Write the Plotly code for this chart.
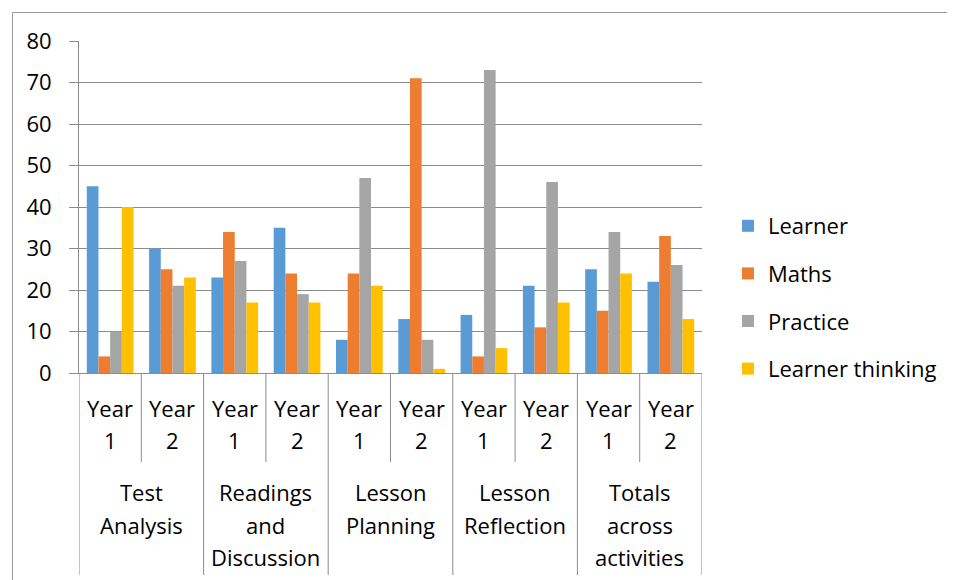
import plotly.graph_objects as go

groups = ["Test<br>Analysis", "Readings<br>and<br>Discussion", "Lesson<br>Planning", "Lesson<br>Reflection", "Totals<br>across<br>activities"]
years = ["Year 1", "Year 2"]
series_names = ["Learner", "Maths", "Practice", "Learner thinking"]
learner = [45, 30, 23, 35, 8, 13, 14, 21, 25, 22]
maths = [4, 25, 34, 24, 24, 71, 4, 11, 15, 33]
practice = [10, 21, 27, 19, 47, 8, 73, 46, 34, 26]
learner_thinking = [40, 23, 17, 17, 21, 1, 6, 17, 24, 13]
colors = ["#5B9BD5", "#ED7D31", "#A5A5A5", "#FFC000"]
y_ticks = [0, 10, 20, 30, 40, 50, 60, 70, 80]

FONT = "Open Sans"
FS = 22
OFF = 8  # page body margin
W, H = 955 - OFF, 580 - OFF
PL, PR, PT, PB = 79, 702, 41, 373
L, R, T, B = PL - OFF, PR - OFF, PT - OFF, PB - OFF
pw, ph = R - L, B - T

def py(y_page):
    return (PB - y_page) / ph

def pxp(x_page):
    return (x_page - PL) / pw

xs = list(range(len(learner)))
fig = go.Figure()
for i, (name, vals) in enumerate(zip(series_names, [learner, maths, practice, learner_thinking])):
    fig.add_trace(go.Bar(x=xs, y=vals, name=name, marker=dict(color=colors[i], line=dict(width=0)),
                         legendgroup=name))

shapes = []
annotations = []
for k in range(11):
    xv = k - 0.5
    y0 = py(575) if k % 2 == 0 else py(462)
    shapes.append(dict(type="line", xref="x", yref="paper", x0=xv, x1=xv, y0=y0, y1=0,
                       line=dict(color="#8c8c8c", width=1)))
shapes.append(dict(type="rect", xref="paper", yref="paper",
                   x0=pxp(12.5), x1=pxp(951.5), y0=py(600), y1=py(12.5),
                   line=dict(color="#999999", width=1), fillcolor="rgba(0,0,0,0)", layer="below"))

tf = dict(size=FS, color="black", family=FONT)
for j in xs:
    yr = years[j % 2].split(" ")
    annotations.append(dict(x=j, y=py(408), xref="x", yref="paper", text=yr[0], showarrow=False,
                            font=tf, yanchor="middle"))
    annotations.append(dict(x=j, y=py(440), xref="x", yref="paper", text=yr[1], showarrow=False,
                            font=tf, yanchor="middle"))
for g, name in enumerate(groups):
    for li, ln in enumerate(name.split("<br>")):
        annotations.append(dict(x=2 * g + 0.5, y=py(492 + 32.5 * li), xref="x", yref="paper", text=ln,
                                showarrow=False, font=tf, yanchor="middle"))

fig.update_layout(
    width=W, height=H,
    margin=dict(l=L, r=W - R, t=T, b=H - B, autoexpand=False),
    paper_bgcolor="white", plot_bgcolor="white",
    barmode="group", bargap=0.25, bargroupgap=0,
    font=dict(family=FONT, size=FS, color="black"),
    xaxis=dict(range=[-0.5, 9.5], showticklabels=False, showgrid=False, zeroline=False,
               showline=True, linecolor="#8c8c8c", linewidth=1, ticks=""),
    yaxis=dict(range=[0, 80], tickvals=y_ticks, showgrid=True, gridcolor="#8c8c8c", gridwidth=1,
               zeroline=False, showline=True, linecolor="#8c8c8c", linewidth=1,
               tickfont=tf, ticks="outside", ticklen=9, tickcolor="#8c8c8c", ticklabelstandoff=13),
    legend=dict(x=pxp(728), y=py(205), xanchor="left", yanchor="top",
                font=tf, tracegroupgap=16, itemwidth=30, bgcolor="rgba(0,0,0,0)"),
    shapes=shapes, annotations=annotations,
)
fig.write_html("out.html")
